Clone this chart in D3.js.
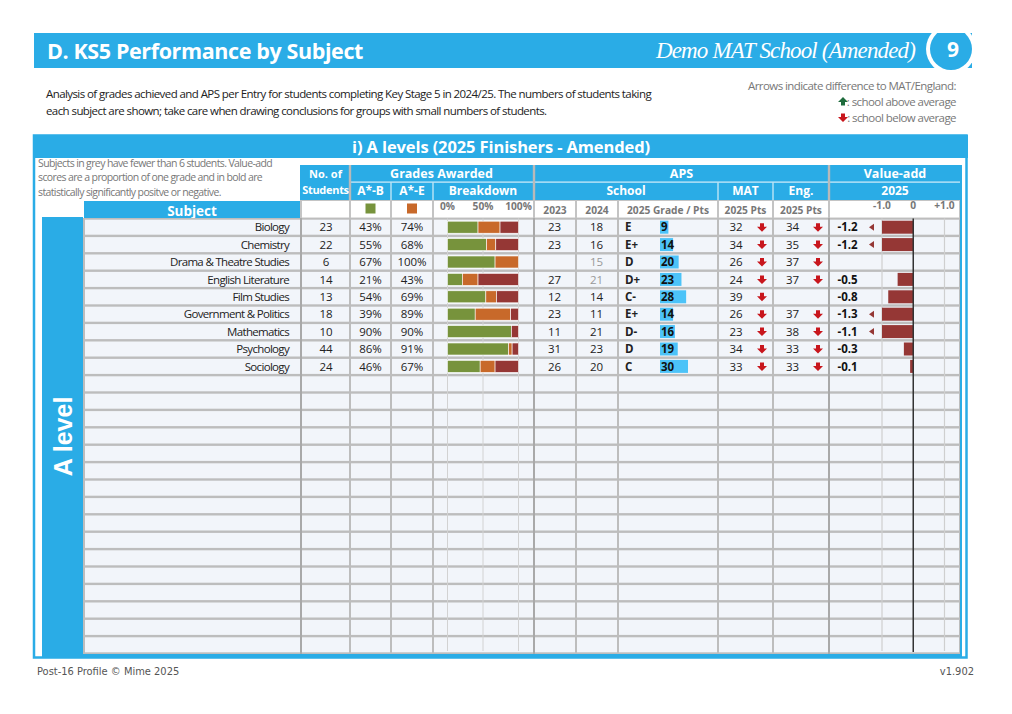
<!DOCTYPE html>
<html><head><meta charset="utf-8">
<script src="https://cdn.jsdelivr.net/npm/d3@7"></script>
<style>body{margin:0;background:#fff}svg{display:block;font-family:"Open Sans",sans-serif}</style>
</head><body><svg id="c" width="1012" height="714"></svg>
<script>
// ---------------- data ----------------
const subjects = ["Biology","Chemistry","Drama & Theatre Studies","English Literature","Film Studies","Government & Politics","Mathematics","Psychology","Sociology"];
const students = [23,22,6,14,13,18,10,44,24];
const pctAB    = [43,55,67,21,54,39,90,86,46];
const pctAE    = [74,68,100,43,69,89,90,91,67];
const aps2023  = [23,23,null,27,12,23,11,31,26];
const aps2024  = [18,16,15,21,14,11,21,23,20];
const aps2024Small = [false,false,true,true,false,false,false,false,false];
const grade2025 = ["E","E+","D","D+","C-","E+","D-","D","C"];
const pts2025  = [9,14,20,23,28,14,16,19,30];
const mat2025  = [32,34,26,24,39,26,23,34,33];
const eng2025  = [34,35,37,37,null,37,38,33,33];
const va2025   = [-1.2,-1.2,null,-0.5,-0.8,-1.3,-1.1,-0.3,-0.1];
const vaSig    = [true,true,false,false,false,true,true,false,false];
const breakdownTicks = ["0%","50%","100%"];
const vaTicks = [-1,0,1];
const vaTickLabels = ["-1.0","0","+1.0"];
const totalRows = 25;

// ---------------- style ----------------
const BLUE="#2aace6", PTS="#4cc3f8", GREEN="#77933c", ORANGE="#c8692a", RED="#953735";
const CELL="#f2f5fa", GRID="#bdbdbd", ARROWRED="#c8161d", ARROWGREEN="#1e6b3c";
const svg = d3.select("#c");

// fit width by letter-spacing (keeps font-size)
function fit(sel, w){ const n=sel.node(); const l=n.getComputedTextLength(); const ls=(w-l)/sel.text().length; sel.attr("letter-spacing",ls.toFixed(3)); return ls; }

// ---------------- page header ----------------
svg.append("rect").attr("x",34).attr("y",33).attr("width",938).attr("height",35).attr("fill",BLUE);
const t1 = svg.append("text").attr("x",47).attr("y",59).attr("fill","#fff").attr("font-weight","bold").attr("font-size",21.5).text("D. KS5 Performance by Subject");
fit(t1,316);
const t2 = svg.append("text").attr("x",915).attr("y",58).attr("text-anchor","end").attr("fill","#fff").attr("font-style","italic")
  .attr("font-family","'Liberation Serif','DejaVu Serif',serif").attr("font-size",23).text("Demo MAT School (Amended)");
fit(t2,259);
const defs = svg.append("defs");
defs.append("clipPath").attr("id","bc").append("rect").attr("x",900).attr("y",33).attr("width",72).attr("height",60);
defs.append("clipPath").attr("id","bc2").append("rect").attr("x",900).attr("y",33).attr("width",72).attr("height",35);
svg.append("circle").attr("cx",951).attr("cy",49).attr("r",25).attr("fill","#fff").attr("clip-path","url(#bc2)");
svg.append("circle").attr("cx",951).attr("cy",49).attr("r",21).attr("fill",BLUE).attr("clip-path","url(#bc)");
svg.append("text").attr("x",953).attr("y",57).attr("text-anchor","middle").attr("fill","#fff").attr("font-weight","bold").attr("font-size",21).text("9");

const s1 = svg.append("text").attr("x",46).attr("y",98).attr("fill","#222").attr("font-size",11.5).text("Analysis of grades achieved and APS per Entry for students completing Key Stage 5 in 2024/25. The numbers of students taking");
const sls = fit(s1,605);
svg.append("text").attr("x",46).attr("y",114.5).attr("fill","#222").attr("font-size",11.5).attr("letter-spacing",sls).text("each subject are shown; take care when drawing conclusions for groups with small numbers of students.");

function arrowPath(up){ return up ? "M-2,4 h4 v-3.5 h3 l-5,-5 l-5,5 h3 z" : "M-2,-4 h4 v3.5 h3 l-5,5 l-5,-5 h3 z"; }
const l1 = svg.append("text").attr("x",956).attr("y",90).attr("text-anchor","end").attr("fill","#777").attr("font-size",11.5).text("Arrows indicate difference to MAT/England:");
const lls = fit(l1,208);
svg.append("text").attr("x",956).attr("y",106).attr("text-anchor","end").attr("fill","#777").attr("font-size",11.5).attr("letter-spacing",lls).text(": school above average");
svg.append("text").attr("x",956).attr("y",122).attr("text-anchor","end").attr("fill","#777").attr("font-size",11.5).attr("letter-spacing",lls).text(": school below average");
svg.append("path").attr("d",arrowPath(true)).attr("transform","translate(843,101.5)").attr("fill",ARROWGREEN);
svg.append("path").attr("d",arrowPath(false)).attr("transform","translate(843,117.5)").attr("fill",ARROWRED);

// ---------------- panel ----------------
svg.append("rect").attr("x",34).attr("y",135.5).attr("width",932.5).attr("height",522).attr("fill","none").attr("stroke",BLUE).attr("stroke-width",2.5);
svg.append("rect").attr("x",33).attr("y",135).attr("width",935).attr("height",23).attr("fill",BLUE);
const pt = svg.append("text").attr("x",501).attr("y",153).attr("text-anchor","middle").attr("fill","#fff").attr("font-weight","bold").attr("font-size",16.5).text("i) A levels (2025 Finishers - Amended)");
fit(pt,298);

const n1 = svg.append("text").attr("x",38).attr("y",166.5).attr("fill","#777").attr("font-size",10.5).text("Subjects in grey have fewer than 6 students. Value-add");
const nls = fit(n1,234);
svg.append("text").attr("x",38).attr("y",181).attr("fill","#777").attr("font-size",10.5).attr("letter-spacing",nls).text("scores are a proportion of one grade and in bold are");
svg.append("text").attr("x",38).attr("y",195.5).attr("fill","#777").attr("font-size",10.5).attr("letter-spacing",nls).text("statistically significantly positve or negative.");

// column layout
const C = {subj:[85,300], n:[302,349], ab:[351,390], ae:[392,432], bd:[434,533], y23:[535,575], y24:[577,617], g25:[619,717], mat:[719,772], eng:[774,828], va:[830,959]};
const colKeys = Object.keys(C);
const mid = k => (C[k][0]+C[k][1])/2;

// scales
const yRow = d3.scaleBand().domain(d3.range(totalRows)).range([218.5,653.5]);
const bw = yRow.bandwidth();
const xBd = d3.scaleLinear().domain([0,100]).range([447.5,518.5]);
const xPts = d3.scaleLinear().domain([0,60]).range([660,716]);
const xVa = d3.scaleLinear().domain([-1,1]).range([882,944.5]).clamp(true);

// blue A level column and table frame
svg.append("rect").attr("x",42).attr("y",217).attr("width",41).attr("height",440).attr("fill",BLUE);
svg.append("rect").attr("x",42).attr("y",653.5).attr("width",920).attr("height",4).attr("fill",BLUE);
svg.append("rect").attr("x",959.5).attr("y",165).attr("width",2.5).attr("height",492).attr("fill",BLUE);
svg.append("text").attr("transform","translate(71.5,436.5) rotate(-90)").attr("text-anchor","middle")
  .attr("font-family","'Liberation Sans',Arial,sans-serif").attr("font-weight","bold").attr("font-size",25).attr("fill","#fff").text("A level");

// header background
svg.append("rect").attr("x",300).attr("y",165).attr("width",660).attr("height",35).attr("fill",BLUE);
svg.append("rect").attr("x",84).attr("y",201).attr("width",216).attr("height",17.5).attr("fill",BLUE);
svg.append("text").attr("x",192).attr("y",216).attr("text-anchor","middle").attr("fill","#fff").attr("font-weight","bold").attr("font-size",13.5).text("Subject");

// header separators
const hdr = svg.append("g");
hdr.append("rect").attr("x",351).attr("y",181.5).attr("width",609).attr("height",1.2).attr("fill","#d6eef9");
[391,433,718,773].forEach(x=>hdr.append("rect").attr("x",x-0.6).attr("y",182.5).attr("width",1.2).attr("height",17.5).attr("fill","#d6eef9"));
[350,534,829].forEach(x=>hdr.append("rect").attr("x",x-1.2).attr("y",165).attr("width",2.4).attr("height",35).attr("fill","#b9b9b9"));

const hText = (x,y,t,fs)=>svg.append("text").attr("x",x).attr("y",y).attr("text-anchor","middle").attr("fill","#fff").attr("font-weight","bold").attr("font-size",fs||12).text(t);
hText(325.5,178,"No. of",11); hText(325.5,194,"Students",11).attr("letter-spacing",-0.3);
hText((351+532)/2,178,"Grades Awarded",12.5); hText((535+828)/2,178,"APS",12.5); hText((830+960)/2,178,"Value-add",12.5);
hText(mid("ab"),195,"A*-B"); hText(mid("ae"),195,"A*-E"); hText((434+532)/2,195,"Breakdown");
hText((535+717)/2,195,"School"); hText(mid("mat"),195,"MAT"); hText(mid("eng"),195,"Eng."); hText((830+960)/2,195,"2025");

// header row 3 (sub-labels)
svg.append("rect").attr("x",300).attr("y",200).attr("width",660).attr("height",19).attr("fill","#c4c4c4");
const sub = svg.append("g");
["n","ab","ae","bd","y23","y24","g25","mat","eng","va"].forEach(k=>{
  sub.append("rect").attr("x",C[k][0]).attr("y",201).attr("width",C[k][1]-C[k][0]).attr("height",16.5).attr("fill","#fff");
});
sub.append("rect").attr("x",mid("ab")-5).attr("y",203.5).attr("width",10).attr("height",10).attr("fill",GREEN);
sub.append("rect").attr("x",mid("ae")-5).attr("y",203.5).attr("width",10).attr("height",10).attr("fill",ORANGE);
const gl = (x,y,t)=>sub.append("text").attr("x",x).attr("y",y).attr("text-anchor","middle").attr("fill","#777").attr("font-weight","bold").attr("font-size",10.2).text(t);
breakdownTicks.forEach((t,i)=>gl(xBd(i*50),209.5,t));
gl(mid("y23"),213.5,"2023"); gl(mid("y24"),213.5,"2024"); gl(mid("g25"),213.5,"2025 Grade / Pts"); gl(mid("mat"),213.5,"2025 Pts"); gl(mid("eng"),213.5,"2025 Pts");
vaTicks.forEach((v,i)=>gl(xVa(v),208.5,vaTickLabels[i]));

// ---------------- body grid ----------------
svg.append("rect").attr("x",83).attr("y",218).attr("width",877).attr("height",436).attr("fill",GRID);
const body = svg.append("g");
d3.range(totalRows).forEach(i=>{
  colKeys.forEach(k=>{
    body.append("rect").attr("x",C[k][0]).attr("y",yRow(i)+1.2).attr("width",C[k][1]-C[k][0]).attr("height",bw-2.4).attr("fill",CELL);
  });
});
// darker major separators
[[300,302],[533,535],[828,830]].forEach(([a,b])=>body.append("rect").attr("x",a).attr("y",218).attr("width",b-a).attr("height",436).attr("fill","#a9a9a9"));
// sub-grid lines
[0,50,100].forEach(v=>body.append("line").attr("x1",xBd(v)).attr("x2",xBd(v)).attr("y1",218.5).attr("y2",651).attr("stroke","#d2d2d2").attr("stroke-width",1));
[-1,1].forEach(v=>body.append("line").attr("x1",xVa(v)).attr("x2",xVa(v)).attr("y1",218.5).attr("y2",651).attr("stroke","#cfcfcf").attr("stroke-width",1.2));

// ---------------- marks ----------------
const rows = subjects.map((s,i)=>({i,s}));
const g = svg.append("g");
const cy = i => yRow(i)+bw/2;
const txt = (x,i,t,opt={})=>g.append("text").attr("x",x).attr("y",cy(i)).attr("dy","0.36em")
  .attr("text-anchor",opt.anchor||"middle").attr("font-size",opt.fs||11.5).attr("font-weight",opt.bold?"bold":"normal")
  .attr("fill",opt.fill||"#222").text(t);

// breakdown bars
rows.forEach(({i})=>{
  const segs = [[0,pctAB[i],GREEN],[pctAB[i],pctAE[i],ORANGE],[pctAE[i],100,RED]];
  segs.forEach(([a,b,c])=>{ if(b>a) g.append("rect").attr("x",xBd(a)).attr("y",cy(i)-6).attr("width",xBd(b)-xBd(a)).attr("height",12).attr("fill",c).attr("stroke","#fff").attr("stroke-width",0.6); });
});
// pts bars
rows.forEach(({i})=>{
  g.append("rect").attr("x",xPts(0)).attr("y",cy(i)-6.5).attr("width",xPts(pts2025[i])-xPts(0)).attr("height",13).attr("fill",PTS);
});
// VA bars
rows.forEach(({i})=>{
  if(va2025[i]==null) return;
  const a = xVa(Math.min(0,va2025[i])), b = xVa(Math.max(0,va2025[i]));
  g.append("rect").attr("x",a).attr("y",cy(i)-6.5).attr("width",b-a).attr("height",13).attr("fill",RED);
});
// zero line
g.append("line").attr("x1",xVa(0)).attr("x2",xVa(0)).attr("y1",218.5).attr("y2",652).attr("stroke","#333").attr("stroke-width",1.5);

// texts
const sub1 = txt(289, 2, subjects[2], {anchor:"end"});
const subLs = fit(sub1,119);
rows.forEach(({i,s})=>{
  if(i!==2) txt(289,i,s,{anchor:"end"}).attr("letter-spacing",subLs);
  txt(mid("n")+0.5,i,students[i]);
  txt(mid("ab"),i,pctAB[i]+"%");
  txt(mid("ae"),i,pctAE[i]+"%");
  if(aps2023[i]!=null) txt(554.5,i,aps2023[i]);
  if(aps2024[i]!=null) txt(596.5,i,aps2024[i],{fill:aps2024Small[i]?"#999":"#222"});
  txt(625,i,grade2025[i],{anchor:"start",bold:true});
  txt(661,i,pts2025[i],{anchor:"start",bold:true,fill:"#111"});
  txt(736,i,mat2025[i]);
  g.append("path").attr("d",arrowPath(pts2025[i]>mat2025[i])).attr("transform",`translate(762,${cy(i)})`).attr("fill",pts2025[i]>mat2025[i]?ARROWGREEN:ARROWRED);
  if(eng2025[i]!=null){
    txt(792.5,i,eng2025[i]);
    g.append("path").attr("d",arrowPath(pts2025[i]>eng2025[i])).attr("transform",`translate(818,${cy(i)})`).attr("fill",pts2025[i]>eng2025[i]?ARROWGREEN:ARROWRED);
  }
  if(va2025[i]!=null){
    txt(837.5,i,d3.format(".1f")(va2025[i]).replace("−","-"),{anchor:"start",bold:true,fill:"#111"});
    if(vaSig[i]) g.append("path").attr("d","M3,-3.5 L-2,0 L3,3.5 Z").attr("transform",`translate(871,${cy(i)})`).attr("fill",RED);
  }
});

// footer
svg.append("text").attr("x",37).attr("y",675).attr("fill","#555").attr("font-size",11).attr("font-family","'Liberation Sans Narrow','DejaVu Sans Condensed',sans-serif").text("Post-16 Profile © Mime 2025");
svg.append("text").attr("x",974).attr("y",675).attr("text-anchor","end").attr("fill","#555").attr("font-size",11).attr("font-family","'Liberation Sans Narrow','DejaVu Sans Condensed',sans-serif").text("v1.902");
</script></body></html>
